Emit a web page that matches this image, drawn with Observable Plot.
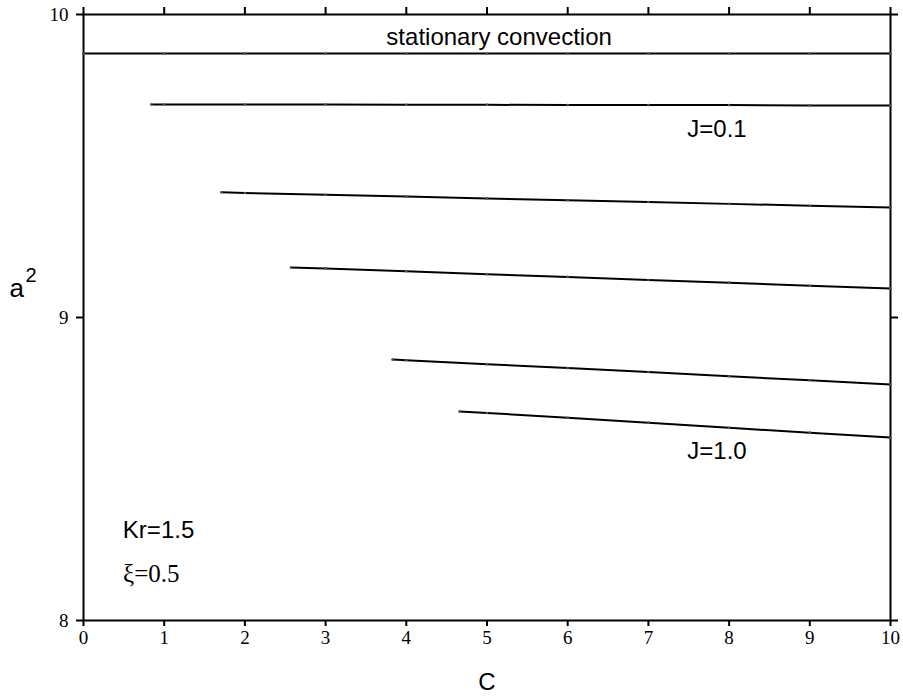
<!DOCTYPE html>
<html><head><meta charset="utf-8">
<script src="https://cdn.jsdelivr.net/npm/d3@7"></script>
<script src="https://cdn.jsdelivr.net/npm/@observablehq/plot@0.6"></script>
<style>body{margin:0;background:#fff}</style>
</head><body><div id="chart"></div>
<script>
const xTicks = [0,1,2,3,4,5,6,7,8,9,10];
const yTicks = [8,9,10];
const stationaryX = [0,1,2,3,4,5,6,7,8,9,10];
const stationaryY = 9.871;
const c1 = [0.84,1,2,3,4,5,6,7,8,9,10];
const a1 = [9.703,9.703,9.703,9.703,9.702,9.702,9.701,9.701,9.701,9.700,9.700];
const c2 = [1.71,2,3,4,5,6,7,8,9,10];
const a2 = [9.413,9.411,9.405,9.399,9.393,9.387,9.381,9.375,9.369,9.363];
const c3 = [2.57,3,4,5,6,7,8,9,10];
const a3 = [9.165,9.162,9.153,9.143,9.134,9.124,9.115,9.105,9.096];
const c4 = [3.83,4,5,6,7,8,9,10];
const a4 = [8.861,8.859,8.846,8.833,8.820,8.806,8.793,8.779];
const c5 = [4.66,5,6,7,8,9,10];
const a5 = [8.690,8.685,8.669,8.653,8.636,8.620,8.604];
const sansLabels = [
  {text:"stationary convection", x:5.15, y:9.924},
  {text:"J=0.1", x:7.85, y:9.622},
  {text:"J=1.0", x:7.85, y:8.559},
  {text:"Kr=1.5", x:0.93, y:8.297}
];
const serifLabels = [
  {text:"ξ=0.5", x:0.84, y:8.152}
];

const series = [[c1,a1],[c2,a2],[c3,a3],[c4,a4],[c5,a5]];
const pts = [];
series.forEach(([cs,as],k)=>cs.forEach((c,i)=>pts.push({s:k,c,a:as[i]})));
const stat = stationaryX.map(c=>({c,a:stationaryY}));

const serif = "Liberation Serif, Times New Roman, serif";
const sans = "Liberation Sans, Arial, sans-serif";

const chart = Plot.plot({
  width: 903, height: 700,
  marginLeft: 83, marginRight: 13, marginTop: 14, marginBottom: 80,
  x: {domain:[0,10]},
  y: {domain:[8,10]},
  style: {fontFamily: serif, color:"black", background:"white"},
  marks: [
    Plot.frame({stroke:"black", strokeWidth:2}),
    Plot.axisX({anchor:"bottom", ticks:xTicks, tickSize:6, tickPadding:4, strokeWidth:2, tickFormat:"d", label:null}),
    Plot.axisX({anchor:"top", ticks:xTicks, tickSize:8, tickFormat:()=>"", strokeWidth:2, label:null}),
    Plot.axisY({anchor:"left", ticks:yTicks, tickSize:7, tickPadding:8, strokeWidth:2, tickFormat:"d", label:null}),
    Plot.axisY({anchor:"right", ticks:yTicks, tickSize:7, tickFormat:()=>"", strokeWidth:2, label:null}),
    Plot.line(stat, {x:"c", y:"a", stroke:"black", strokeWidth:2}),
    Plot.dot(stat, {x:"c", y:"a", r:1.3, fill:"#555"}),
    Plot.line(pts, {x:"c", y:"a", z:"s", stroke:"black", strokeWidth:2}),
    Plot.dot(pts, {x:"c", y:"a", r:1.3, fill:"#555"}),
    Plot.text(sansLabels, {x:"x", y:"y", text:"text", fontFamily:sans, fontSize:24, fill:"black"}),
    Plot.text(serifLabels, {x:"x", y:"y", text:"text", fontFamily:serif, fontSize:25, fill:"black"}),
    Plot.text(["C"], {frameAnchor:"bottom", dy:69, text:d=>d, fontFamily:sans, fontSize:24, fill:"black"}),
    Plot.text(["a"], {frameAnchor:"left", dx:-74, dy:-29, text:d=>d, fontFamily:sans, fontSize:26, fill:"black"}),
    Plot.text(["2"], {frameAnchor:"left", dx:-58, dy:-42, text:d=>d, fontFamily:sans, fontSize:20, fill:"black"})
  ]
});
document.getElementById("chart").appendChild(chart);
chart.querySelectorAll("text").forEach(t => {
  const g = t.closest("g");
  const lab = (g && g.getAttribute("aria-label")) || "";
  if (lab.includes("axis")) {
    t.setAttribute("font-size", "19");
    t.style.fontSize = "19px";
    t.style.fontFamily = serif;
    if (g) { g.setAttribute("font-size", "19"); g.style.fontSize = "19px"; }
  }
});
</script>
</body></html>
